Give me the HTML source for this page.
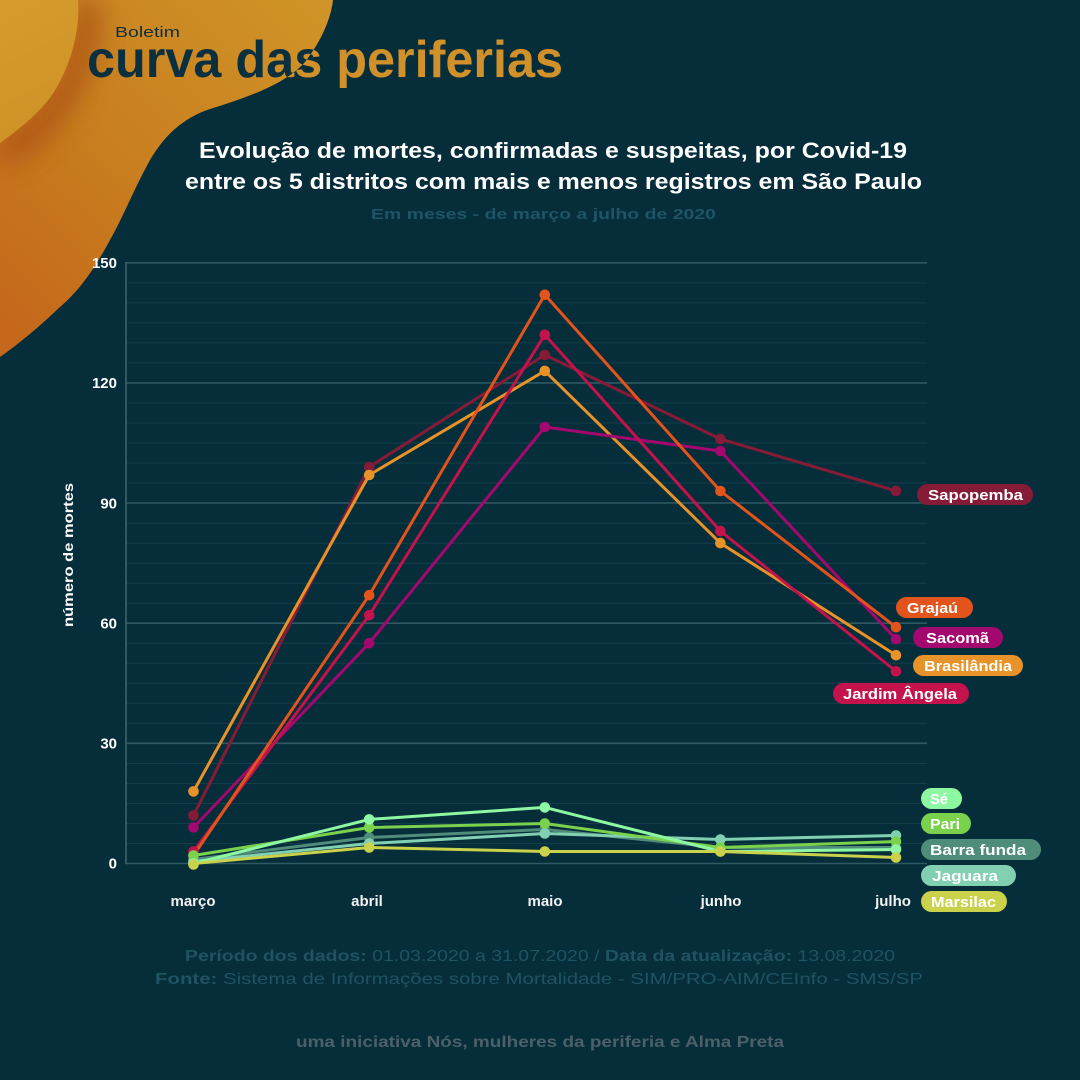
<!DOCTYPE html>
<html>
<head>
<meta charset="utf-8">
<style>
html,body{margin:0;padding:0;background:#062d3a;}
svg{display:block;}
text{font-family:"Liberation Sans",sans-serif;}
</style>
</head>
<body>
<svg width="1080" height="1080" viewBox="0 0 1080 1080" xmlns="http://www.w3.org/2000/svg">
<defs>
  <linearGradient id="blobg" x1="320" y1="0" x2="0" y2="340" gradientUnits="userSpaceOnUse">
    <stop offset="0" stop-color="#d09428"/>
    <stop offset="0.5" stop-color="#c9801f"/>
    <stop offset="1" stop-color="#c4661b"/>
  </linearGradient>
  <linearGradient id="innerg" x1="0" y1="0" x2="70" y2="140" gradientUnits="userSpaceOnUse">
    <stop offset="0" stop-color="#d49c2c"/>
    <stop offset="1" stop-color="#cf9026"/>
  </linearGradient>
  <clipPath id="blobclip">
    <path d="M0,0 L333,0 C331,18 322,40 305,62 C285,85 245,98 207,110 C180,120 163,138 150,160 C135,187 124,215 110,240 C95,268 80,290 60,307 C40,326 20,343 0,357 Z"/>
  </clipPath>
  <filter id="blur" x="-50%" y="-50%" width="200%" height="200%">
    <feGaussianBlur stdDeviation="14"/>
  </filter>
</defs>

<rect width="1080" height="1080" fill="#062d3a"/>

<!-- blob -->
<path d="M0,0 L333,0 C331,18 322,40 305,62 C285,85 245,98 207,110 C180,120 163,138 150,160 C135,187 124,215 110,240 C95,268 80,290 60,307 C40,326 20,343 0,357 Z" fill="url(#blobg)"/>
<g clip-path="url(#blobclip)">
  <path d="M86,0 C88,34 80,66 64,94 C50,118 28,138 0,156" fill="none" stroke="#a84e18" stroke-width="26" filter="url(#blur)" opacity="0.85"/>
  <path d="M0,0 L78,0 C80,30 72,60 57,87 C45,108 25,125 0,143 Z" fill="url(#innerg)"/>
</g>

<!-- header -->
<text x="115" y="37" font-size="15" fill="#0b2f3c" textLength="65" lengthAdjust="spacingAndGlyphs">Boletim</text>
<text x="87" y="77" font-size="52" font-weight="bold" fill="#d0902a" textLength="476" lengthAdjust="spacingAndGlyphs">curva das periferias</text>
<g clip-path="url(#blobclip)">
  <text x="87" y="77" font-size="52" font-weight="bold" fill="#0a3040" textLength="476" lengthAdjust="spacingAndGlyphs">curva das periferias</text>
</g>

<!-- title -->
<text x="199" y="158" font-size="22" font-weight="bold" fill="#ffffff" textLength="708" lengthAdjust="spacingAndGlyphs">Evolução de mortes, confirmadas e suspeitas, por Covid-19</text>
<text x="185" y="189" font-size="22" font-weight="bold" fill="#ffffff" textLength="737" lengthAdjust="spacingAndGlyphs">entre os 5 distritos com mais e menos registros em São Paulo</text>
<text x="371" y="219" font-size="15" font-weight="bold" fill="#1d5567" textLength="345" lengthAdjust="spacingAndGlyphs">Em meses - de março a julho de 2020</text>

<!-- minor gridlines -->
<g stroke="#123e4a" stroke-width="1">
  <line x1="126" x2="927" y1="843.5" y2="843.5"/><line x1="126" x2="927" y1="823.5" y2="823.5"/><line x1="126" x2="927" y1="803.5" y2="803.5"/><line x1="126" x2="927" y1="783.5" y2="783.5"/><line x1="126" x2="927" y1="763.5" y2="763.5"/>
  <line x1="126" x2="927" y1="723.3" y2="723.3"/><line x1="126" x2="927" y1="703.3" y2="703.3"/><line x1="126" x2="927" y1="683.3" y2="683.3"/><line x1="126" x2="927" y1="663.3" y2="663.3"/><line x1="126" x2="927" y1="643.3" y2="643.3"/>
  <line x1="126" x2="927" y1="603.2" y2="603.2"/><line x1="126" x2="927" y1="583.2" y2="583.2"/><line x1="126" x2="927" y1="563.2" y2="563.2"/><line x1="126" x2="927" y1="543.2" y2="543.2"/><line x1="126" x2="927" y1="523.2" y2="523.2"/>
  <line x1="126" x2="927" y1="483.0" y2="483.0"/><line x1="126" x2="927" y1="463.0" y2="463.0"/><line x1="126" x2="927" y1="443.0" y2="443.0"/><line x1="126" x2="927" y1="423.0" y2="423.0"/><line x1="126" x2="927" y1="403.0" y2="403.0"/>
  <line x1="126" x2="927" y1="362.9" y2="362.9"/><line x1="126" x2="927" y1="342.9" y2="342.9"/><line x1="126" x2="927" y1="322.9" y2="322.9"/><line x1="126" x2="927" y1="302.9" y2="302.9"/><line x1="126" x2="927" y1="282.9" y2="282.9"/>
</g>
<!-- major gridlines -->
<g stroke="#2e5962" stroke-width="1.6">
  <line x1="126" x2="927" y1="863.5" y2="863.5"/>
  <line x1="126" x2="927" y1="743.3" y2="743.3"/>
  <line x1="126" x2="927" y1="623.2" y2="623.2"/>
  <line x1="126" x2="927" y1="503.0" y2="503.0"/>
  <line x1="126" x2="927" y1="382.9" y2="382.9"/>
  <line x1="126" x2="927" y1="262.8" y2="262.8"/>
</g>
<line x1="126" x2="126" y1="262" y2="864" stroke="#3a6570" stroke-width="1.6"/>

<!-- y tick labels -->
<g font-size="15" font-weight="bold" fill="#ffffff" text-anchor="end">
  <text x="117" y="868.5">0</text>
  <text x="117" y="748.5">30</text>
  <text x="117" y="628.5">60</text>
  <text x="117" y="508.5">90</text>
  <text x="117" y="388">120</text>
  <text x="117" y="268">150</text>
</g>
<text transform="translate(73,555) rotate(-90)" font-size="14" font-weight="bold" fill="#ffffff" text-anchor="middle" textLength="144" lengthAdjust="spacingAndGlyphs">número de mortes</text>

<!-- x labels -->
<g font-size="15" font-weight="bold" fill="#f2f2f2" text-anchor="middle">
  <text x="193" y="906">março</text>
  <text x="367" y="906">abril</text>
  <text x="545" y="906">maio</text>
  <text x="721" y="906">junho</text>
  <text x="893" y="906">julho</text>
</g>

<!-- high series -->
<g fill="none" stroke-width="3" stroke-linejoin="round">
  <polyline stroke="#861b38" points="193.5,815.4 369.2,467.0 544.8,354.9 720.4,439.0 896,491.0"/>
  <polyline stroke="#e8922a" points="193.5,791.4 369.2,475.0 544.8,370.9 720.4,543.1 896,655.2"/>
  <polyline stroke="#a3086f" points="193.5,827.5 369.2,643.2 544.8,427.0 720.4,451.0 896,639.2"/>
  <polyline stroke="#c4134c" points="193.5,851.5 369.2,615.2 544.8,334.8 720.4,531.1 896,671.3"/>
  <polyline stroke="#e2541c" points="193.5,855.5 369.2,595.2 544.8,294.8 720.4,491.0 896,627.2"/>
</g>
<g>
  <g fill="#861b38"><circle cx="193.5" cy="815.4" r="5.3"/><circle cx="369.2" cy="467.0" r="5.3"/><circle cx="544.8" cy="354.9" r="5.3"/><circle cx="720.4" cy="439.0" r="5.3"/><circle cx="896" cy="491.0" r="5.3"/></g>
  <g fill="#e8922a"><circle cx="193.5" cy="791.4" r="5.3"/><circle cx="369.2" cy="475.0" r="5.3"/><circle cx="544.8" cy="370.9" r="5.3"/><circle cx="720.4" cy="543.1" r="5.3"/><circle cx="896" cy="655.2" r="5.3"/></g>
  <g fill="#a3086f"><circle cx="193.5" cy="827.5" r="5.3"/><circle cx="369.2" cy="643.2" r="5.3"/><circle cx="544.8" cy="427.0" r="5.3"/><circle cx="720.4" cy="451.0" r="5.3"/><circle cx="896" cy="639.2" r="5.3"/></g>
  <g fill="#e2541c"><circle cx="193.5" cy="855.5" r="5.3"/><circle cx="369.2" cy="595.2" r="5.3"/><circle cx="544.8" cy="294.8" r="5.3"/><circle cx="720.4" cy="491.0" r="5.3"/><circle cx="896" cy="627.2" r="5.3"/></g>
  <g fill="#c4134c"><circle cx="193.5" cy="851.5" r="5.3"/><circle cx="369.2" cy="615.2" r="5.3"/><circle cx="544.8" cy="334.8" r="5.3"/><circle cx="720.4" cy="531.1" r="5.3"/><circle cx="896" cy="671.3" r="5.3"/></g>
</g>

<!-- low series -->
<g fill="none" stroke-width="3" stroke-linejoin="round">
  <polyline stroke="#4f8c7a" points="193.5,859.5 369.2,837.5 544.8,829.5 720.4,847.5 896,847.5"/>
  <polyline stroke="#82d0b2" points="193.5,861.5 369.2,843.5 544.8,833.5 720.4,839.5 896,835.5"/>
  <polyline stroke="#7ad14c" points="193.5,855.5 369.2,827.5 544.8,823.5 720.4,847.5 896,841.5"/>
  <polyline stroke="#8ef7a2" points="193.5,863.5 369.2,819.4 544.8,807.4 720.4,851.5 896,849.5"/>
  <polyline stroke="#c9d24a" points="193.5,863.5 369.2,847.5 544.8,851.5 720.4,851.5 896,857.5"/>
</g>
<g>
  <g fill="#4f8c7a"><circle cx="193.5" cy="859.5" r="5.3"/><circle cx="369.2" cy="837.5" r="5.3"/><circle cx="544.8" cy="829.5" r="5.3"/><circle cx="720.4" cy="847.5" r="5.3"/><circle cx="896" cy="847.5" r="5.3"/></g>
  <g fill="#82d0b2"><circle cx="193.5" cy="861.5" r="5.3"/><circle cx="369.2" cy="843.5" r="5.3"/><circle cx="544.8" cy="833.5" r="5.3"/><circle cx="720.4" cy="839.5" r="5.3"/><circle cx="896" cy="835.5" r="5.3"/></g>
  <g fill="#7ad14c"><circle cx="193.5" cy="855.5" r="5.3"/><circle cx="369.2" cy="827.5" r="5.3"/><circle cx="544.8" cy="823.5" r="5.3"/><circle cx="720.4" cy="847.5" r="5.3"/><circle cx="896" cy="841.5" r="5.3"/></g>
  <g fill="#8ef7a2"><circle cx="193.5" cy="863.5" r="5.3"/><circle cx="369.2" cy="819.4" r="5.3"/><circle cx="544.8" cy="807.4" r="5.3"/><circle cx="720.4" cy="851.5" r="5.3"/><circle cx="896" cy="849.5" r="5.3"/></g>
  <g fill="#c9d24a"><circle cx="193.5" cy="864.5" r="5.3"/><circle cx="369.2" cy="847.5" r="5.3"/><circle cx="544.8" cy="851.5" r="5.3"/><circle cx="720.4" cy="851.5" r="5.3"/><circle cx="896" cy="857.5" r="5.3"/></g>
</g>

<!-- labels -->
<g font-size="15" font-weight="bold" fill="#ffffff">
  <rect x="917" y="484" width="116" height="21" rx="10.5" fill="#861b38"/>
  <text x="928" y="500" textLength="95" lengthAdjust="spacingAndGlyphs">Sapopemba</text>
  <rect x="896" y="597" width="77" height="21" rx="10.5" fill="#e2541c"/>
  <text x="907" y="613" textLength="51" lengthAdjust="spacingAndGlyphs">Grajaú</text>
  <rect x="913" y="627" width="90" height="21" rx="10.5" fill="#a3086f"/>
  <text x="926" y="643" textLength="63" lengthAdjust="spacingAndGlyphs">Sacomã</text>
  <rect x="913" y="655" width="110" height="21" rx="10.5" fill="#e8922a"/>
  <text x="924" y="671" textLength="88" lengthAdjust="spacingAndGlyphs">Brasilândia</text>
  <rect x="833" y="683" width="136" height="21" rx="10.5" fill="#c4134c"/>
  <text x="843" y="699" textLength="114" lengthAdjust="spacingAndGlyphs">Jardim Ângela</text>

  <rect x="921" y="788" width="41" height="21" rx="10.5" fill="#8ef7a2"/>
  <text x="930" y="804" textLength="18" lengthAdjust="spacingAndGlyphs">Sé</text>
  <rect x="921" y="813" width="50" height="21" rx="10.5" fill="#7ad14c"/>
  <text x="930" y="829" textLength="30" lengthAdjust="spacingAndGlyphs">Pari</text>
  <rect x="921" y="839" width="120" height="21" rx="10.5" fill="#4f8c7a"/>
  <text x="930" y="855" textLength="96" lengthAdjust="spacingAndGlyphs">Barra funda</text>
  <rect x="921" y="865" width="95" height="21" rx="10.5" fill="#82d0b2"/>
  <text x="932" y="881" textLength="66" lengthAdjust="spacingAndGlyphs">Jaguara</text>
  <rect x="921" y="891" width="86" height="21" rx="10.5" fill="#c9d24a"/>
  <text x="931" y="907" textLength="65" lengthAdjust="spacingAndGlyphs">Marsilac</text>
</g>

<!-- footer -->
<text x="185" y="961" font-size="16" fill="#1f5363" textLength="710" lengthAdjust="spacingAndGlyphs"><tspan font-weight="bold">Período dos dados:</tspan> 01.03.2020 a 31.07.2020 / <tspan font-weight="bold">Data da atualização:</tspan> 13.08.2020</text>
<text x="155" y="984" font-size="16" fill="#1f5363" textLength="768" lengthAdjust="spacingAndGlyphs"><tspan font-weight="bold">Fonte:</tspan> Sistema de Informações sobre Mortalidade - SIM/PRO-AIM/CEInfo - SMS/SP</text>
<text x="296" y="1047" font-size="16" font-weight="bold" fill="#4b6068" textLength="488" lengthAdjust="spacingAndGlyphs">uma iniciativa Nós, mulheres da periferia e Alma Preta</text>
</svg>
</body>
</html>
